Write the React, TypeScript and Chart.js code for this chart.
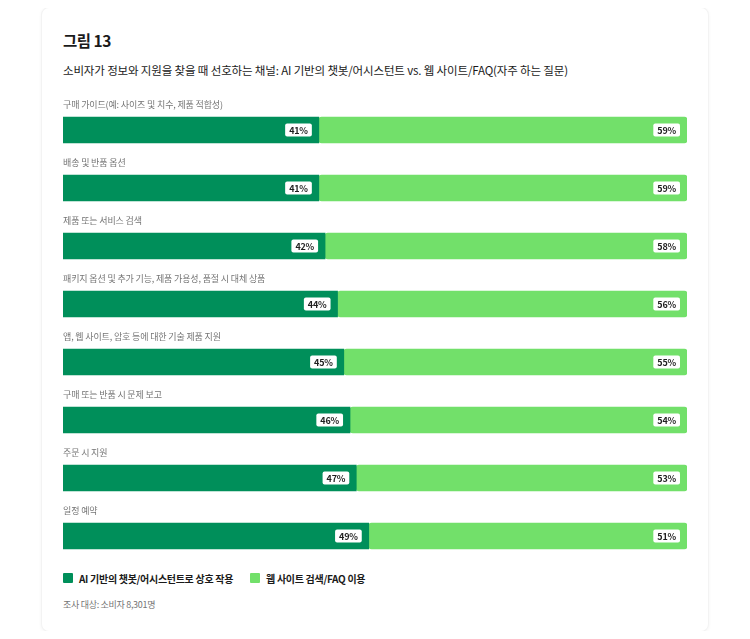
import React, { useEffect, useRef } from 'react';
import { Chart, registerables } from 'chart.js';

Chart.register(...registerables);

const FONT = '"Noto Sans CJK KR", "Noto Sans", sans-serif';

const categories = [
  '구매 가이드(예: 사이즈 및 치수, 제품 적합성)',
  '배송 및 반품 옵션',
  '제품 또는 서비스 검색',
  '패키지 옵션 및 추가 기능, 제품 가용성, 품절 시 대체 상품',
  '앱, 웹 사이트, 암호 등에 대한 기술 제품 지원',
  '구매 또는 반품 시 문제 보고',
  '주문 시 지원',
  '일정 예약',
];
const aiValues = [41, 41, 42, 44, 45, 46, 47, 49];
const webValues = [59, 59, 58, 56, 55, 54, 53, 51];
const seriesNames = ['AI 기반의 챗봇/어시스턴트로 상호 작용', '웹 사이트 검색/FAQ 이용'];
const seriesColors = ['#008f5a', '#72e06a'];

// category name above each bar
const categoryLabelPlugin = {
  id: 'categoryLabels',
  afterDatasetsDraw(chart: any) {
    const { ctx, chartArea } = chart;
    const meta = chart.getDatasetMeta(0);
    ctx.save();
    ctx.font = `9px ${FONT}`;
    ctx.letterSpacing = '-0.15px';
    ctx.fillStyle = '#757575';
    ctx.textAlign = 'left';
    ctx.textBaseline = 'middle';
    meta.data.forEach((bar: any, i: number) => {
      ctx.fillText(categories[i], chartArea.left, bar.y - 25);
    });
    ctx.restore();
  },
};

// white value boxes at the right end of each segment
const valueBoxPlugin = {
  id: 'valueBoxes',
  afterDatasetsDraw(chart: any) {
    const { ctx } = chart;
    ctx.save();
    ctx.font = `bold 9px ${FONT}`;
    ctx.letterSpacing = '-0.2px';
    ctx.textAlign = 'center';
    ctx.textBaseline = 'middle';
    chart.data.datasets.forEach((ds: any, di: number) => {
      const meta = chart.getDatasetMeta(di);
      meta.data.forEach((bar: any, i: number) => {
        const text = `${ds.data[i]}%`;
        const w = ctx.measureText(text).width + 8;
        const h = 13;
        const right = bar.x - 7;
        const left = right - w;
        ctx.fillStyle = '#ffffff';
        ctx.beginPath();
        ctx.roundRect(left, bar.y - h / 2, w, h, 2);
        ctx.fill();
        ctx.fillStyle = '#1f1f1f';
        ctx.fillText(text, left + w / 2, bar.y + 0.5);
      });
    });
    ctx.restore();
  },
};

const ChannelChart: React.FC = () => {
  const chartRef = useRef<HTMLCanvasElement>(null);
  const chartInstanceRef = useRef<Chart | null>(null);

  useEffect(() => {
    if (!chartRef.current) return;
    if (chartInstanceRef.current) {
      chartInstanceRef.current.destroy();
    }
    const ctx = chartRef.current.getContext('2d');
    if (!ctx) return;

    chartInstanceRef.current = new Chart(ctx, {
      type: 'bar',
      data: {
        labels: categories,
        datasets: [
          {
            label: seriesNames[0],
            data: aiValues,
            backgroundColor: seriesColors[0],
            barThickness: 26,
            borderRadius: 3,
            borderSkipped: false,
          },
          {
            label: seriesNames[1],
            data: webValues,
            backgroundColor: seriesColors[1],
            barThickness: 26,
            borderRadius: 3,
            borderSkipped: false,
          },
        ],
      },
      options: {
        indexAxis: 'y',
        animation: false,
        responsive: true,
        maintainAspectRatio: false,
        layout: { padding: { top: 12, left: 0, right: 0, bottom: 0 } },
        plugins: {
          legend: { display: false },
          tooltip: { enabled: false },
        },
        scales: {
          x: { stacked: true, min: 0, max: 100, display: false },
          y: { stacked: true, display: false },
        },
      },
      plugins: [categoryLabelPlugin, valueBoxPlugin],
    } as any);

    return () => {
      if (chartInstanceRef.current) {
        chartInstanceRef.current.destroy();
        chartInstanceRef.current = null;
      }
    };
  }, []);

  return (
    <div style={{ position: 'absolute', left: 21, top: 81, width: 624, height: 476 }}>
      <canvas ref={chartRef}></canvas>
    </div>
  );
};

export default function App() {
  return (
    <div style={{ position: 'relative', width: 734, height: 623, fontFamily: FONT }}>
      <div
        style={{
          position: 'absolute',
          left: 34,
          top: 0,
          width: 666,
          height: 623,
          background: '#fff',
          borderRadius: 7,
          boxShadow: '0 0 0 1px #f3f3f3, 0 1px 4px rgba(0,0,0,0.07)',
        }}
      >
        <div
          style={{
            position: 'absolute',
            left: 21,
            top: 20,
            lineHeight: '24px',
            fontSize: 15.5,
            fontWeight: 700,
            letterSpacing: -0.5,
            color: '#1a1a1a',
          }}
        >
          그림 13
        </div>
        <div
          style={{
            position: 'absolute',
            left: 21,
            top: 53,
            lineHeight: '18px',
            fontSize: 11.5,
            letterSpacing: -0.15,
            color: '#1a1a1a',
            whiteSpace: 'nowrap',
          }}
        >
          소비자가 정보와 지원을 찾을 때 선호하는 채널: AI 기반의 챗봇/어시스턴트 vs. 웹 사이트/FAQ(자주 하는 질문)
        </div>
        <ChannelChart />
        <div
          style={{
            position: 'absolute',
            left: 21,
            top: 562,
            height: 16,
            display: 'flex',
            alignItems: 'center',
            fontSize: 10,
            fontWeight: 700,
            letterSpacing: -0.3,
            color: '#1a1a1a',
            whiteSpace: 'nowrap',
          }}
        >
          {seriesNames.map((name, i) => (
            <div key={name} style={{ display: 'flex', alignItems: 'center', marginRight: 17 }}>
              <span
                style={{
                  display: 'inline-block',
                  width: 10,
                  height: 10,
                  borderRadius: 1,
                  background: seriesColors[i],
                  marginRight: 6,
                }}
              />
              {name}
            </div>
          ))}
        </div>
        <div
          style={{
            position: 'absolute',
            left: 21,
            top: 589,
            lineHeight: '16px',
            fontSize: 9,
            letterSpacing: -0.3,
            color: '#757575',
          }}
        >
          조사 대상: 소비자 8,301명
        </div>
      </div>
    </div>
  );
}
